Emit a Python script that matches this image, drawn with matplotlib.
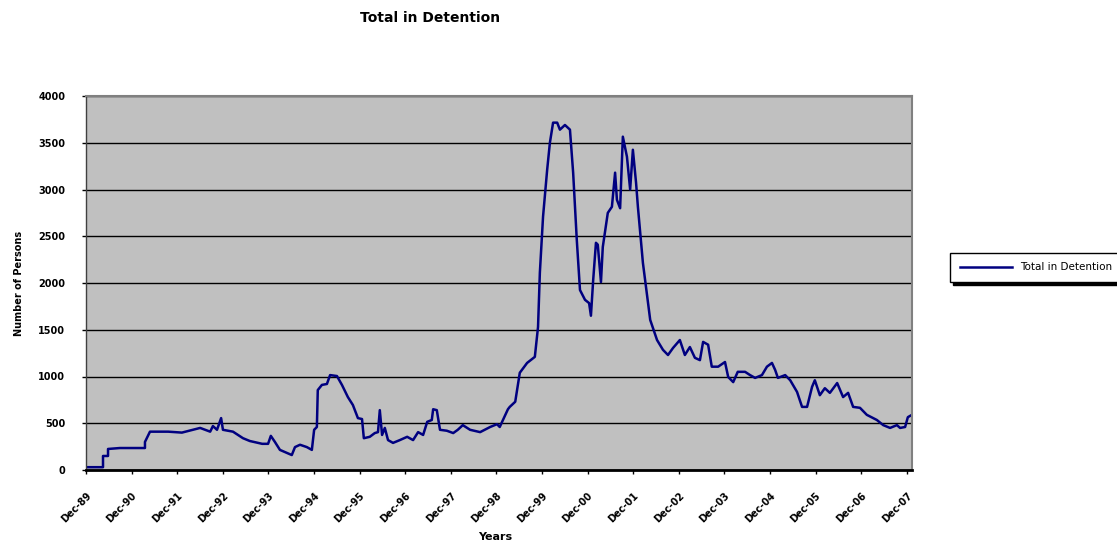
import matplotlib
matplotlib.use("Agg")
import matplotlib.pyplot as plt

# pixel-read data (decimal year, persons)
years = [1989.93, 1990.29, 1990.29, 1990.40, 1990.40, 1990.66, 1991.21, 1991.21, 1991.32, 1991.72,
         1992.02, 1992.42, 1992.64, 1992.70, 1992.79, 1992.88, 1992.92, 1993.14, 1993.36, 1993.51,
         1993.78, 1993.91, 1993.97, 1994.06, 1994.17, 1994.43, 1994.50, 1994.61, 1994.76, 1994.87,
         1994.92, 1994.98, 1995.00, 1995.09, 1995.20, 1995.27, 1995.42, 1995.53, 1995.66, 1995.77,
         1995.88, 1995.97, 1996.01, 1996.14, 1996.25, 1996.32, 1996.36, 1996.41, 1996.47, 1996.54,
         1996.65, 1996.80, 1996.96, 1997.09, 1997.20, 1997.31, 1997.40, 1997.50, 1997.53, 1997.61,
         1997.68, 1997.83, 1997.97, 1998.07, 1998.18, 1998.34, 1998.56, 1998.78, 1998.93, 1998.99,
         1999.06, 1999.17, 1999.21, 1999.33, 1999.43, 1999.59, 1999.76, 1999.83, 1999.87, 1999.94,
         2000.03, 2000.09, 2000.16, 2000.25, 2000.31, 2000.42, 2000.53, 2000.60, 2000.68, 2000.75,
         2000.86, 2000.95, 2000.99, 2001.04, 2001.10, 2001.14, 2001.21, 2001.25, 2001.36, 2001.45,
         2001.52, 2001.56, 2001.63, 2001.69, 2001.78, 2001.85, 2001.91, 2001.98, 2002.02, 2002.13,
         2002.29, 2002.44, 2002.57, 2002.68, 2002.79, 2002.94, 2003.05, 2003.16, 2003.27, 2003.38,
         2003.45, 2003.56, 2003.64, 2003.78, 2003.93, 2004.00, 2004.11, 2004.21, 2004.37, 2004.48,
         2004.59, 2004.74, 2004.85, 2004.96, 2005.03, 2005.09, 2005.25, 2005.36, 2005.51, 2005.62,
         2005.73, 2005.84, 2005.90, 2006.01, 2006.12, 2006.23, 2006.39, 2006.52, 2006.63, 2006.74,
         2006.89, 2007.04, 2007.18, 2007.26, 2007.40, 2007.55, 2007.70, 2007.77, 2007.88, 2007.94,
         2008.03]
persons = [30, 30, 150, 150, 225, 235, 235, 300, 410, 410,
           400, 450, 410, 470, 430, 555, 430, 410, 340, 310,
           280, 280, 365, 300, 215, 160, 245, 270, 245, 215,
           430, 460, 855, 910, 920, 1015, 1005, 910, 780, 695,
           555, 545, 340, 355, 395, 405, 640, 375, 450, 320,
           290, 320, 355, 320, 405, 375, 515, 535, 650, 640,
           430, 420, 395, 430, 480, 430, 405, 460, 490, 460,
           535, 650, 675, 730, 1040, 1145, 1210, 1530, 2110, 2710,
           3210, 3500, 3715, 3715, 3640, 3690, 3640, 3180, 2460, 1925,
           1820, 1785, 1650, 2035, 2430, 2410, 2010, 2385, 2750, 2815,
           3180, 2890, 2800, 3565, 3350, 3000, 3425, 3070, 2815, 2215,
           1605, 1390, 1285, 1230, 1305, 1390, 1230, 1315, 1200, 1175,
           1370, 1340, 1105, 1105, 1155, 995, 940, 1050, 1050, 1015,
           985, 1015, 1105, 1145, 1070, 985, 1015, 960, 835, 675,
           675, 890, 960, 800, 875, 825, 930, 780, 825, 675,
           665, 590, 555, 535, 480, 450, 480, 450, 460, 565,
           590]

tick_labels = ["Dec-89", "Dec-90", "Dec-91", "Dec-92", "Dec-93", "Dec-94", "Dec-95",
               "Dec-96", "Dec-97", "Dec-98", "Dec-99", "Dec-00", "Dec-01", "Dec-02",
               "Dec-03", "Dec-04", "Dec-05", "Dec-06", "Dec-07"]
tick_pos = [1989.917 + i for i in range(len(tick_labels))]
y_ticks = [0, 500, 1000, 1500, 2000, 2500, 3000, 3500, 4000]

W, H = 1117, 546
fig = plt.figure(figsize=(W / 100, H / 100), dpi=100)
ax = fig.add_axes([86 / W, 1 - 470 / H, (912 - 86) / W, (470 - 96) / H])
ax.set_facecolor("#C0C0C0")

line, = ax.plot(years, persons, color="#000080", linewidth=1.8, label="Total in Detention")

ax.set_xlim(1989.917, 1989.917 + (912 - 86) / 45.6)
ax.set_ylim(0, 4000)
ax.set_yticks(y_ticks)
ax.set_yticklabels([str(v) for v in y_ticks], fontsize=7, fontweight="bold")
ax.set_xticks(tick_pos)
ax.set_xticklabels(tick_labels, rotation=45, ha="right", rotation_mode="anchor",
                   fontsize=7, fontweight="bold")
ax.tick_params(axis="both", direction="out", length=3, width=1, color="black")
ax.tick_params(axis="y", pad=12)
ax.tick_params(axis="x", pad=12)

ax.grid(axis="y", color="black", linewidth=1)
ax.set_axisbelow(True)

for s in ["top", "right"]:
    ax.spines[s].set_color("#808080")
    ax.spines[s].set_linewidth(1.5)
ax.spines["left"].set_color("#404040")
ax.spines["left"].set_linewidth(1)
ax.spines["bottom"].set_color("black")
ax.spines["bottom"].set_linewidth(2)

ax.set_ylabel("Number of Persons", fontsize=7, fontweight="bold", labelpad=10)
fig.text(495 / W, 1 - 537 / H, "Years", ha="center", va="center",
         fontsize=8, fontweight="bold")

fig.text(430 / W, 1 - 18 / H, "Total in Detention", ha="center", va="center",
         fontsize=10, fontweight="bold")

leg = fig.legend(handles=[line], loc="center left",
                 bbox_to_anchor=(945 / W, 1 - 283 / H, 0.2, 31 / H), mode="expand",
                 fontsize=7.5, frameon=True, fancybox=False, handlelength=5,
                 borderpad=0.9, shadow={"color": "black", "alpha": 1})
leg.get_frame().set_edgecolor("black")
leg.get_frame().set_linewidth(1)

fig.savefig("out.png", dpi=100)
